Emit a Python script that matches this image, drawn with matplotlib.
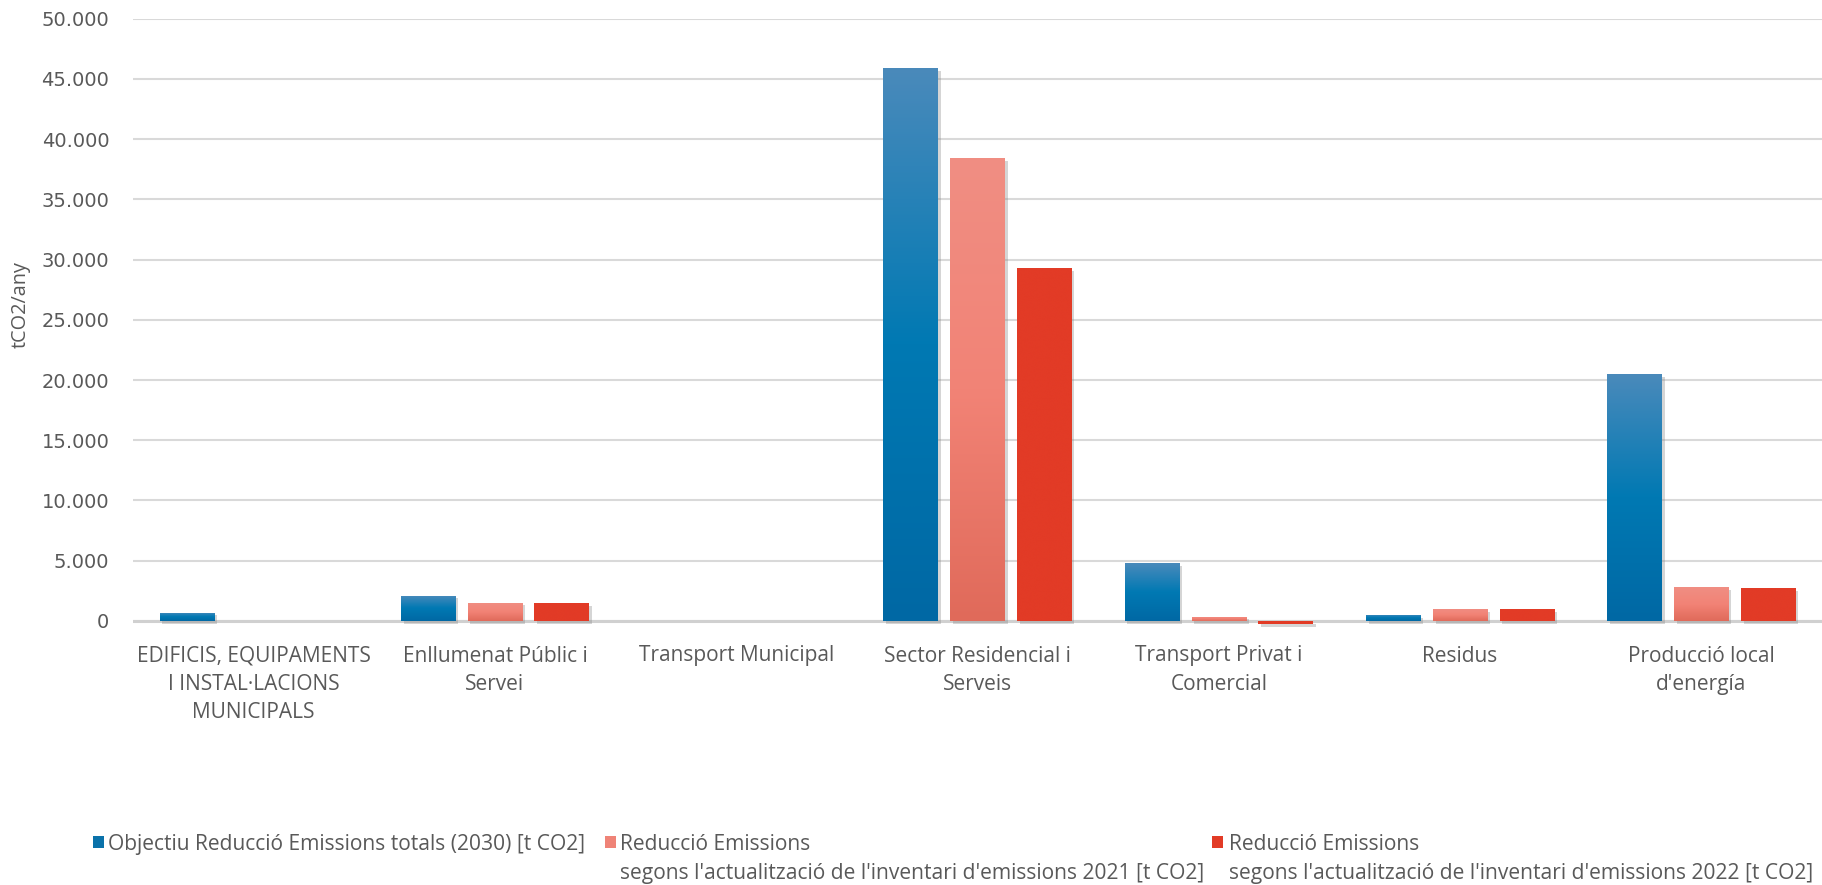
import numpy as np
import matplotlib
matplotlib.use("Agg")
import matplotlib.pyplot as plt
from matplotlib.patches import Rectangle
from matplotlib.colors import LinearSegmentedColormap
from matplotlib.ticker import FuncFormatter
import matplotlib.patheffects as pe

categories = [
    "EDIFICIS, EQUIPAMENTS\nI INSTAL·LACIONS\nMUNICIPALS",
    "Enllumenat Públic i\nServei",
    "Transport Municipal",
    "Sector Residencial i\nServeis",
    "Transport Privat i\nComercial",
    "Residus",
    "Producció local\nd'energía",
]
objectiu_2030 = [700, 2100, 0, 45900, 4800, 500, 20500]
reduccio_2021 = [0, 1520, 0, 38400, 360, 1000, 2800]
reduccio_2022 = [0, 1460, 0, 29300, -230, 1000, 2750]

series_labels = [
    "Objectiu Reducció Emissions totals (2030) [t CO2]",
    "Reducció Emissions\nsegons l'actualització de l'inventari d'emissions 2021 [t CO2]",
    "Reducció Emissions\nsegons l'actualització de l'inventari d'emissions 2022 [t CO2]",
]
yticks = [0, 5000, 10000, 15000, 20000, 25000, 30000, 35000, 40000, 45000, 50000]

# gradient (top, middle, bottom) per series
grads = [
    ("#4a8abb", "#0079b3", "#0068a4"),
    ("#f08e83", "#f28376", "#e06a5a"),
    ("#e23b26", "#e23b26", "#e23b26"),
]
legend_colors = ["#0a72aa", "#ef8377", "#e23b26"]
FONT = "Open Sans"
GREY = "#595959"

W, H = 1822, 885
fig = plt.figure(figsize=(W / 100, H / 100), dpi=100)
renderer = fig.canvas.get_renderer()


def fit_size(text, family, target_px, base=14.0):
    t = fig.text(0, 0, text, fontfamily=family, fontsize=base)
    w = t.get_window_extent(renderer).width
    t.remove()
    return base * target_px / w


cat_fs = fit_size("EDIFICIS, EQUIPAMENTS", FONT, 235)
leg_fs = fit_size(series_labels[0], FONT, 481)

ax = fig.add_axes([133 / W, 1 - 633 / H, 1 - 133 / W, (633 - 18.6) / H])

ymin, ymax = -1000, 50000
x = np.arange(len(categories))
bw = 0.226
off = 0.277
for i, vals in enumerate([objectiu_2030, reduccio_2021, reduccio_2022]):
    cmap = LinearSegmentedColormap.from_list("g%d" % i, list(grads[i]))
    bars = ax.bar(x + (i - 1) * off, vals, width=bw, color=grads[i][1], zorder=3,
                  linewidth=0)
    for b in bars:
        h = b.get_height()
        if h == 0:
            continue
        b.set_path_effects([pe.SimplePatchShadow(offset=(2, -2), shadow_rgbFace="#888888", alpha=0.35),
                            pe.Normal()])
        x0 = b.get_x()
        y0 = b.get_y()
        grad = np.linspace(0, 1, 256).reshape(-1, 1)
        im = ax.imshow(grad, cmap=cmap, aspect="auto", origin="upper",
                       extent=[x0, x0 + b.get_width(), min(y0, y0 + h), max(y0, y0 + h)],
                       zorder=4, interpolation="bicubic")
        im.set_clip_path(b)

ax.set_xlim(-0.5, len(categories) - 0.5)
ax.set_ylim(ymin, ymax)
ax.set_yticks(yticks)
ax.yaxis.set_major_formatter(FuncFormatter(lambda v, p: f"{int(v):,}".replace(",", ".")))
ax.grid(axis="y", color="#d9d9d9", linewidth=1.5, zorder=0)
ax.axhline(0, color="#d0d0d0", linewidth=2.2, zorder=2)
for s in ax.spines.values():
    s.set_visible(False)
ax.tick_params(axis="both", length=0)
ax.tick_params(axis="y", pad=17, labelsize=14, labelcolor=GREY)
ax.set_xticks(x)
ax.set_xticklabels(categories, fontfamily=FONT, fontsize=cat_fs, color=GREY, linespacing=1.45)
ax.tick_params(axis="x", pad=9)
for lab in ax.get_yticklabels():
    lab.set_fontfamily("DejaVu Sans")

fig.text(21 / W, 1 - 305 / H, "tCO2/any", rotation=90, ha="center", va="center",
         fontfamily=FONT, fontsize=cat_fs * 0.95, color=GREY)

# legend (manual)
leg_pos = [(93, 108), (605, 620), (1212, 1229)]
line_y = [842, 871]
for (mx, tx), lab, c in zip(leg_pos, series_labels, legend_colors):
    fig.patches.append(Rectangle((mx / W, 1 - 848 / H), 11 / W, 12 / H, transform=fig.transFigure,
                                 facecolor=c, edgecolor="none"))
    for ly, line in zip(line_y, lab.split("\n")):
        fig.text(tx / W, 1 - ly / H, line, ha="left", va="center_baseline",
                 fontfamily=FONT, fontsize=leg_fs, color=GREY)

fig.savefig("out.png", dpi=100, facecolor="white")
